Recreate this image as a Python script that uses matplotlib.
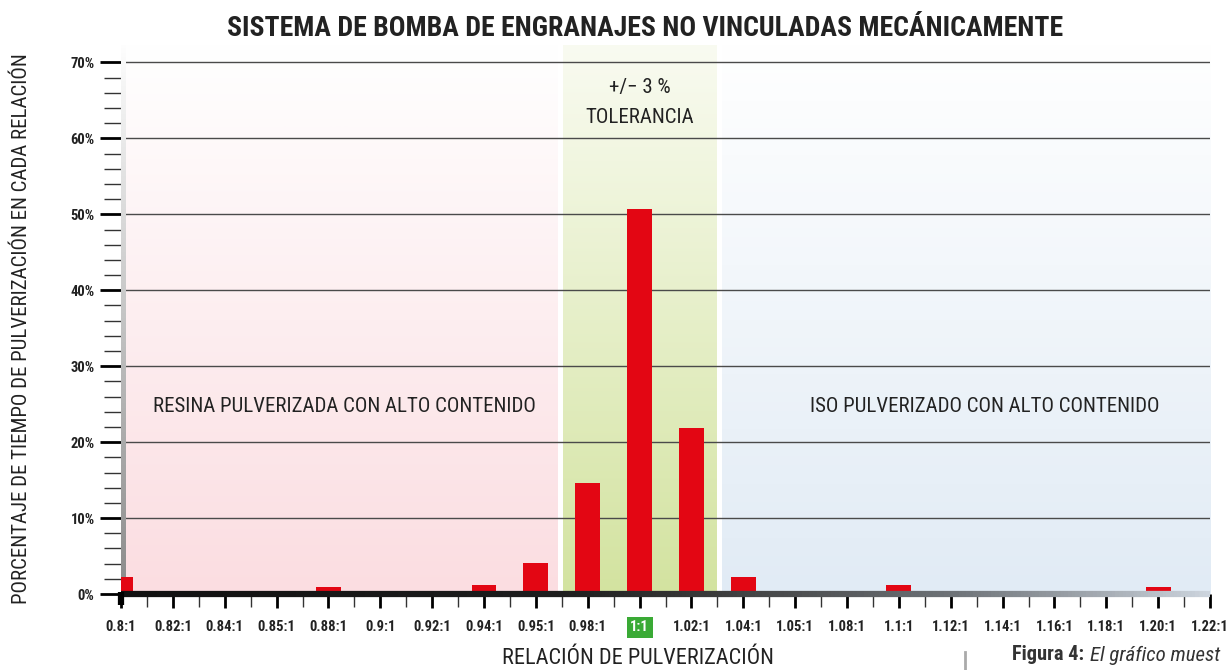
import numpy as np
import matplotlib
matplotlib.use("Agg")
import matplotlib.pyplot as plt
from matplotlib import font_manager as fm
from matplotlib.colors import LinearSegmentedColormap
from matplotlib.collections import LineCollection

# ---------------- data ----------------
ratios = ["0.8:1", "0.82:1", "0.84:1", "0.85:1", "0.88:1", "0.9:1", "0.92:1",
          "0.94:1", "0.95:1", "0.98:1", "1:1", "1.02:1", "1.04:1", "1.05:1",
          "1.08:1", "1.1:1", "1.12:1", "1.14:1", "1.16:1", "1.18:1", "1.20:1",
          "1.22:1"]
percent = [2.2, 0, 0, 0, 0.9, 0, 0, 1.2, 4.1, 14.6, 50.7, 21.8, 2.2, 0, 0,
           1.2, 0, 0, 0, 0, 0.9, 0]
y_ticks = [0, 10, 20, 30, 40, 50, 60, 70]
y_ticklabels = ["0%", "10%", "20%", "30%", "40%", "50%", "60%", "70%"]

title = "SISTEMA DE BOMBA DE ENGRANAJES NO VINCULADAS MECÁNICAMENTE"
ylabel = "PORCENTAJE DE TIEMPO DE PULVERIZACIÓN EN CADA RELACIÓN"
xlabel = "RELACIÓN DE PULVERIZACIÓN"
left_note = "RESINA PULVERIZADA CON ALTO CONTENIDO"
right_note = "ISO PULVERIZADO CON ALTO CONTENIDO"
tol_1 = "+/− 3 %"
tol_2 = "TOLERANCIA"
cap_bold = "Figura 4:"
cap_ital = "El gráfico muest"

# ---------------- fonts: pick a narrow family that has regular + bold ----------------
def wnum(w):
    table = {"ultralight": 200, "light": 300, "normal": 400, "regular": 400,
             "book": 400, "medium": 500, "roman": 400, "semibold": 600,
             "demibold": 600, "demi": 600, "bold": 700, "heavy": 800,
             "extra bold": 800, "black": 900}
    return w if isinstance(w, int) else table.get(str(w).lower(), 400)

groups = {}
for f in fm.fontManager.ttflist:
    narrow_name = ("Narrow" in f.name or "Condensed" in f.name)
    cond = str(f.stretch) in ("condensed", "semi-condensed")
    if narrow_name or cond:
        key = (f.name, "condensed" if (cond and not narrow_name) else "normal")
        groups.setdefault(key, set()).add((wnum(f.weight), f.style))

best, best_score = None, -1
for key, ws in groups.items():
    weights = {w for w, s in ws if s == "normal"}
    score = (2 if any(w >= 600 for w in weights) else 0) + \
            (1 if any(350 <= w <= 500 for w in weights) else 0) + \
            (0.5 if "Liberation" in key[0] or "Roboto" in key[0] else 0)
    if score > best_score:
        best, best_score = key, score

if best is None:
    family, stretch = "Liberation Sans", "normal"
else:
    family, stretch = best
plt.rcParams["font.family"] = [family, "DejaVu Sans"]
plt.rcParams["font.stretch"] = stretch

W, H = 1229, 670
fig = plt.figure(figsize=(W / 100, H / 100), dpi=100)
ax_left, ax_right = 121 / W, 1210 / W
ax_bottom, ax_top = 1 - 594 / H, 1 - 45 / H
ax = fig.add_axes([ax_left, ax_bottom, ax_right - ax_left, ax_top - ax_bottom])

n = len(ratios)
x = np.arange(n)
ymax = 72.3
ax.set_xlim(0, n - 1)
ax.set_ylim(0, ymax)

# ---------------- background bands (gradients) ----------------
def band(x0, x1, top_col, bot_col, ytop):
    cmap = LinearSegmentedColormap.from_list("b", [bot_col, top_col])
    grad = np.linspace(0, 1, 256).reshape(-1, 1)
    ax.imshow(grad, extent=(x0, x1, 0, ytop), origin="lower", aspect="auto",
              cmap=cmap, zorder=0, interpolation="bicubic")

band(0, 8.42, "#ffffff", "#fbdde1", ymax)
band(8.52, 11.48, "#f9fbf1", "#d3e3a0", ymax)
band(11.58, 21, "#ffffff", "#e1ebf5", ymax)

# left gray gradient strip
cmap_g = LinearSegmentedColormap.from_list("g", ["#8a8a8a", "#ffffff"])
grad = np.linspace(0, 1, 256).reshape(-1, 1)
ax.imshow(grad, extent=(0, 0.09, 0, ymax + 1), origin="lower", aspect="auto",
          cmap=cmap_g, zorder=3, interpolation="bicubic")

# gridlines
for yt in y_ticks[1:]:
    ax.axhline(yt, color="#4a4a4a", lw=1.0, zorder=1)

# bars
ax.bar(x, percent, width=0.48, color="#e30613", zorder=4)

# bottom thick line with gradient (drawn over bar bases)
segs_x = np.linspace(0, 21, 300)
pts = np.array([segs_x, np.full_like(segs_x, 0)]).T.reshape(-1, 1, 2)
segs = np.concatenate([pts[:-1], pts[1:]], axis=1)
cmap_b = LinearSegmentedColormap.from_list("bb", ["#111111", "#3a3a3a", "#6f7479", "#cdd5de"])
xs = segs_x[:-1]
vals = np.where(xs < 8.5, 0.1 * xs / 8.5,
                np.where(xs < 11.5, 0.1 + 0.25 * (xs - 8.5) / 3.0,
                         0.35 + 0.65 * (xs - 11.5) / 9.5))
lc = LineCollection(segs, cmap=cmap_b, linewidths=4.5, zorder=5, clip_on=False)
lc.set_array(vals)
lc.set_clim(0, 1)
ax.add_collection(lc)

# spines
for s in ["top", "right", "bottom", "left"]:
    ax.spines[s].set_visible(False)
ax.plot([0, 0], [-1.5, 0.2], color="black", lw=4.5, clip_on=False, zorder=6,
        solid_capstyle="butt")

# x ticks
ax.set_xticks(x)
ax.set_xticklabels(ratios, fontsize=10.5, fontweight="bold", color="#222222")
ax.set_xticks(x[:-1] + 0.5, minor=True)
ax.tick_params(axis="x", which="major", length=10, width=2, color="black",
               direction="out", pad=9)
ax.tick_params(axis="x", which="minor", length=9, width=1, color="#333333",
               direction="out")
for lbl in ax.get_xticklabels():
    if lbl.get_text() == "1:1":
        lbl.set_color("white")
        lbl.set_bbox(dict(boxstyle="square,pad=0.25", fc="#3aaa35", ec="none"))

# y ticks
ax.set_yticks(y_ticks)
ax.set_yticklabels(y_ticklabels, fontsize=10.5, fontweight="bold", color="#222222")
ax.set_yticks(np.arange(2, 72, 2), minor=True)
ax.tick_params(axis="y", which="major", length=15, width=2, color="black", pad=4)
ax.tick_params(axis="y", which="minor", length=12, width=1, color="#333333")

# texts
t_title = fig.text(645 / W, 1 - 28 / H, title, ha="center", va="center", fontsize=20,
                   fontweight="bold", color="#222222")
t_ylab = fig.text(22 / W, 1 - 329 / H, ylabel, ha="center", va="center", rotation=90,
                  fontsize=15, color="#222222")
t_xlab = fig.text(638 / W, 1 - 658 / H, xlabel, ha="center", va="center", fontsize=16,
                  color="#222222")
t_cap1 = fig.text(1012 / W, 1 - 655 / H, cap_bold, ha="left", va="center",
                  fontsize=15, fontweight="bold", color="#333333")
t_cap2 = fig.text(1091 / W, 1 - 655 / H, cap_ital, ha="left", va="center",
                  fontsize=15, style="italic", color="#333333")
fig.add_artist(plt.Line2D([965 / W, 965 / W], [0, 1 - 652 / H],
                          color="#aaaaaa", lw=2, transform=fig.transFigure))

t_left = ax.text(4.3, 24.7, left_note, ha="center", va="center", fontsize=15,
                 color="#222222", zorder=6)
t_right = ax.text(16.65, 24.7, right_note, ha="center", va="center", fontsize=15,
                  color="#222222", zorder=6)
t_tol1 = ax.text(10.0, 66.7, tol_1, ha="center", va="center", fontsize=15,
                 color="#222222", zorder=6)
t_tol2 = ax.text(10.0, 62.8, tol_2, ha="center", va="center", fontsize=15,
                 color="#222222", zorder=6)

# shrink texts whose width exceeds the reference width
fig.canvas.draw()
renderer = fig.canvas.get_renderer()
targets = [(t_title, 845, "w"), (t_ylab, 585, "h"), (t_xlab, 275, "w"),
           (t_left, 412, "w"), (t_right, 374, "w"), (t_tol2, 118, "w"),
           (t_tol1, 76, "w"), (t_cap1, 72, "w"), (t_cap2, 138, "w")]
for t, target, dim in targets:
    bb = t.get_window_extent(renderer)
    size = bb.width if dim == "w" else bb.height
    if size > target:
        t.set_fontsize(t.get_fontsize() * target / size)
for lbl in ax.get_xticklabels() + ax.get_yticklabels():
    bb = lbl.get_window_extent(renderer)
    if bb.width > 42:
        lbl.set_fontsize(lbl.get_fontsize() * 42 / bb.width)
fig.canvas.draw()
bb1 = t_cap1.get_window_extent(renderer)
t_cap2.set_x((bb1.x1 + 6) / W)

fig.savefig("out.png", dpi=100)
